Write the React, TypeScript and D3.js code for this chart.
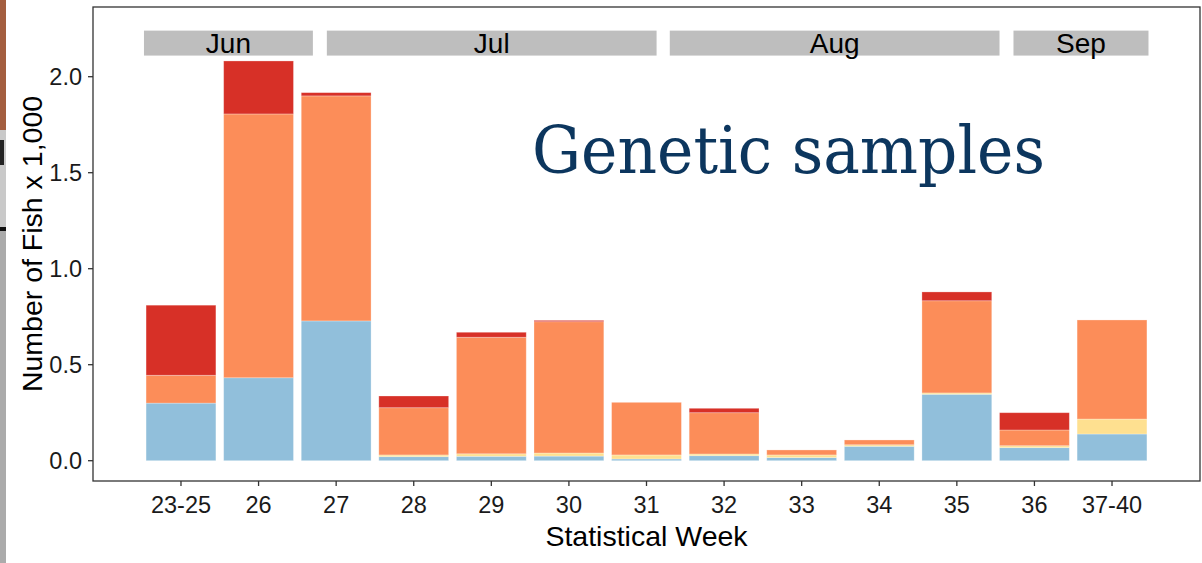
import React from "react";
import * as d3 from "d3";

const weeks = ["23-25", "26", "27", "28", "29", "30", "31", "32", "33", "34", "35", "36", "37-40"];
const blue = [0.30, 0.432, 0.728, 0.021, 0.023, 0.024, 0.009, 0.026, 0.016, 0.075, 0.346, 0.068, 0.139];
const yellow = [0.0, 0.0, 0.0, 0.009, 0.013, 0.016, 0.021, 0.009, 0.014, 0.008, 0.007, 0.010, 0.078];
const orange = [0.145, 1.374, 1.172, 0.246, 0.607, 0.684, 0.274, 0.215, 0.026, 0.025, 0.480, 0.082, 0.516];
const red = [0.365, 0.276, 0.017, 0.061, 0.026, 0.007, 0.0, 0.023, 0.0, 0.0, 0.046, 0.090, 0.0];
const seriesNames = ["blue", "yellow", "orange", "red"];
const seriesColors = ["#91bfdb", "#fee090", "#fc8d59", "#d73027"];
const yTicks = [0, 0.5, 1.0, 1.5, 2.0];
const months = ["Jun", "Jul", "Aug", "Sep"];
const monthStart = [-0.477, 1.88, 6.3, 10.73];
const monthEnd = [1.7, 6.13, 10.55, 12.47];
const title = "Genetic samples";

export default function App() {
  const W = 1202, H = 563;
  const left = 93, right = 1200, top = 7, bottom = 481;
  const x = d3.scalePoint<string>().domain(weeks).range([left, right]).padding(1.134);
  const step = x.step();
  const barW = step * 0.9;
  const y = d3.scaleLinear().domain([0, 2]).range([460.7, 76.7]);
  const xi = d3.scaleLinear().domain([0, weeks.length - 1]).range([x(weeks[0])!, x(weeks[weeks.length - 1])!]);

  const rows = weeks.map((w, i) => ({ week: w, blue: blue[i], yellow: yellow[i], orange: orange[i], red: red[i] }));
  const stack = d3.stack<any>().keys(seriesNames)(rows);

  return (
    <svg width={W} height={H} style={{ position: "absolute", left: 0, top: 0, background: "white" }} fontFamily="Liberation Sans, Arial, sans-serif">
      <rect x={0} y={0} width={W} height={H} fill="white" />
      {/* left edge artifact */}
      <rect x={0} y={0} width={6} height={130} fill="#a45e3f" />
      <rect x={0} y={130} width={6} height={100} fill="#c9c9c9" />
      <rect x={0} y={140} width={4} height={25} fill="#222" />
      <rect x={0} y={227} width={6} height={4} fill="#111" />
      <rect x={0} y={231} width={6} height={332} fill="#ababab" />

      {/* month strips */}
      {months.map((m, i) => (
        <g key={m}>
          <rect x={xi(monthStart[i])} y={y(2.24)} width={xi(monthEnd[i]) - xi(monthStart[i])} height={y(2.11) - y(2.24)} fill="#bebebe" />
          <text x={(xi(monthStart[i]) + xi(monthEnd[i])) / 2} y={y(2.11) - 3} textAnchor="middle" fontSize={28} fill="#000">{m}</text>
        </g>
      ))}

      {/* bars */}
      {stack.map((s, si) => (
        <g key={s.key} fill={seriesColors[si]}>
          {s.map((d, i) => (d[1] - d[0] > 0 ? (
            <rect key={i} x={x(weeks[i])! - barW / 2} y={y(d[1])} width={barW} height={y(d[0]) - y(d[1])} stroke="white" strokeOpacity={0.35} strokeWidth={0.8} />
          ) : null))}
        </g>
      ))}

      {/* title */}
      <text x={532} y={173} fontFamily="DejaVu Serif, Liberation Serif, serif" fontSize={66} fill="#0c365e" textLength={513} lengthAdjust="spacingAndGlyphs">{title}</text>

      {/* panel border */}
      <rect x={left} y={top} width={right - left} height={bottom - top} fill="none" stroke="#333" strokeWidth={1.3} />

      {/* y axis */}
      {yTicks.map((t) => (
        <g key={t}>
          <line x1={left - 5} x2={left} y1={y(t)} y2={y(t)} stroke="#333" strokeWidth={1.3} />
          <text x={left - 11} y={y(t) + 8} textAnchor="end" fontSize={23.5} fill="#1a1a1a">{d3.format(".1f")(t)}</text>
        </g>
      ))}
      {/* x axis */}
      {weeks.map((w) => (
        <g key={w}>
          <line x1={x(w)} x2={x(w)} y1={bottom} y2={bottom + 5} stroke="#333" strokeWidth={1.3} />
          <text x={x(w)} y={bottom + 32} textAnchor="middle" fontSize={23.5} fill="#1a1a1a">{w}</text>
        </g>
      ))}
      <text x={(left + right) / 2} y={546} textAnchor="middle" fontSize={28.5}>Statistical Week</text>
      <text transform={`translate(42,${(top + bottom) / 2}) rotate(-90)`} textAnchor="middle" fontSize={28.5}>Number of Fish x 1,000</text>
    </svg>
  );
}
